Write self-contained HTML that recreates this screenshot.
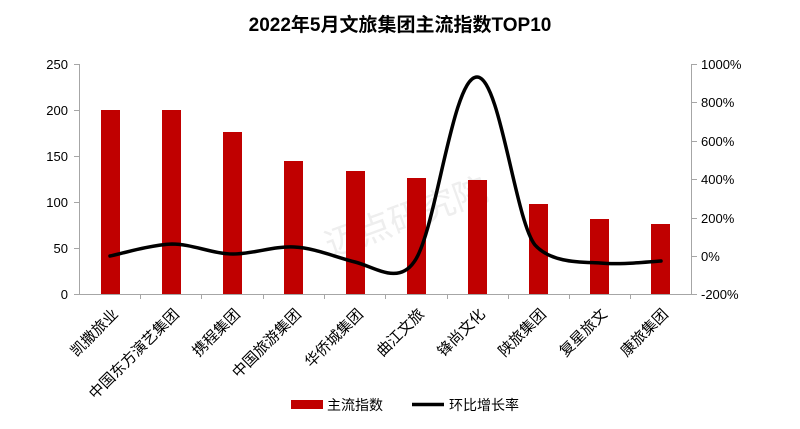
<!DOCTYPE html>
<html><head><meta charset="utf-8"><style>
body{margin:0;background:#fff}
svg text{font-family:"Liberation Sans","Noto Sans CJK SC",sans-serif}
</style></head><body>
<svg width="800" height="424" viewBox="0 0 800 424" xmlns="http://www.w3.org/2000/svg">
<rect width="800" height="424" fill="#fff"/>
<text x="400" y="31" text-anchor="middle" font-size="19" font-weight="bold" fill="#000">2022年5月文旅集团主流指数TOP10</text>
<text x="400" y="230" text-anchor="middle" font-size="34" fill="#eeeeee" transform="rotate(-20 400 200)">迈点研究院</text>
<g stroke="#a6a6a6" stroke-width="1" fill="none">
<line x1="79.5" y1="64" x2="79.5" y2="295"/>
<line x1="691.5" y1="64" x2="691.5" y2="295"/>
<line x1="79" y1="294.5" x2="692" y2="294.5"/>
<path d="M74 64.5h5M74 110.5h5M74 156.5h5M74 202.5h5M74 248.5h5M74 294.5h5"/>
<path d="M692 64.5h5M692 102.5h5M692 141.5h5M692 179.5h5M692 218.5h5M692 256.5h5M692 294.5h5"/>
<path d="M140.5 294v5M201.5 294v5M263.5 294v5M324.5 294v5M385.5 294v5M447.5 294v5M508.5 294v5M569.5 294v5M630.5 294v5"/>
</g>
<g font-size="13" fill="#000" text-anchor="end">
<text x="68" y="69">250</text><text x="68" y="115">200</text><text x="68" y="161">150</text><text x="68" y="207">100</text><text x="68" y="253">50</text><text x="68" y="299">0</text>
</g>
<g font-size="13" fill="#000" text-anchor="start">
<text x="701" y="69">1000%</text><text x="701" y="107">800%</text><text x="701" y="146">600%</text><text x="701" y="184">400%</text><text x="701" y="223">200%</text><text x="701" y="261">0%</text><text x="701" y="299">-200%</text>
</g>
<g fill="#c00000">
<rect x="101" y="110" width="19" height="184"/>
<rect x="162" y="110" width="19" height="184"/>
<rect x="223" y="132" width="19" height="162"/>
<rect x="284" y="161" width="19" height="133"/>
<rect x="346" y="171" width="19" height="123"/>
<rect x="407" y="178" width="19" height="116"/>
<rect x="468" y="180" width="19" height="114"/>
<rect x="529" y="204" width="19" height="90"/>
<rect x="590" y="219" width="19" height="75"/>
<rect x="651" y="224" width="19" height="70"/>
</g>
<path d="M110 256 C120 254,150 245,172 244 C192 244,213 254,233 254 C253 254,274 246,294 247 C315 248,335 257,355 262 C375 267,398 285,414 262 C436 233,452 77,477 77 C500 77,515 220,535 245 C552 264,585 262,600 263 C620 265,645 262,661 261" fill="none" stroke="#000" stroke-width="3.5" stroke-linecap="round"/>
<g font-size="15" fill="#000" text-anchor="end">
<text transform="translate(119 315) rotate(-45)">凯撒旅业</text>
<text transform="translate(180 315) rotate(-45)">中国东方演艺集团</text>
<text transform="translate(241 315) rotate(-45)">携程集团</text>
<text transform="translate(302 315) rotate(-45)">中国旅游集团</text>
<text transform="translate(364 315) rotate(-45)">华侨城集团</text>
<text transform="translate(425 315) rotate(-45)">曲江文旅</text>
<text transform="translate(486 315) rotate(-45)">锋尚文化</text>
<text transform="translate(547 315) rotate(-45)">陕旅集团</text>
<text transform="translate(608 315) rotate(-45)">复星旅文</text>
<text transform="translate(669 315) rotate(-45)">康旅集团</text>
</g>
<rect x="291" y="400" width="32" height="9" fill="#c00000"/>
<text x="327" y="410" font-size="14" fill="#000">主流指数</text>
<line x1="412" y1="404.5" x2="444" y2="404.5" stroke="#000" stroke-width="3.5"/>
<text x="449" y="410" font-size="14" fill="#000">环比增长率</text>
</svg>
</body></html>
